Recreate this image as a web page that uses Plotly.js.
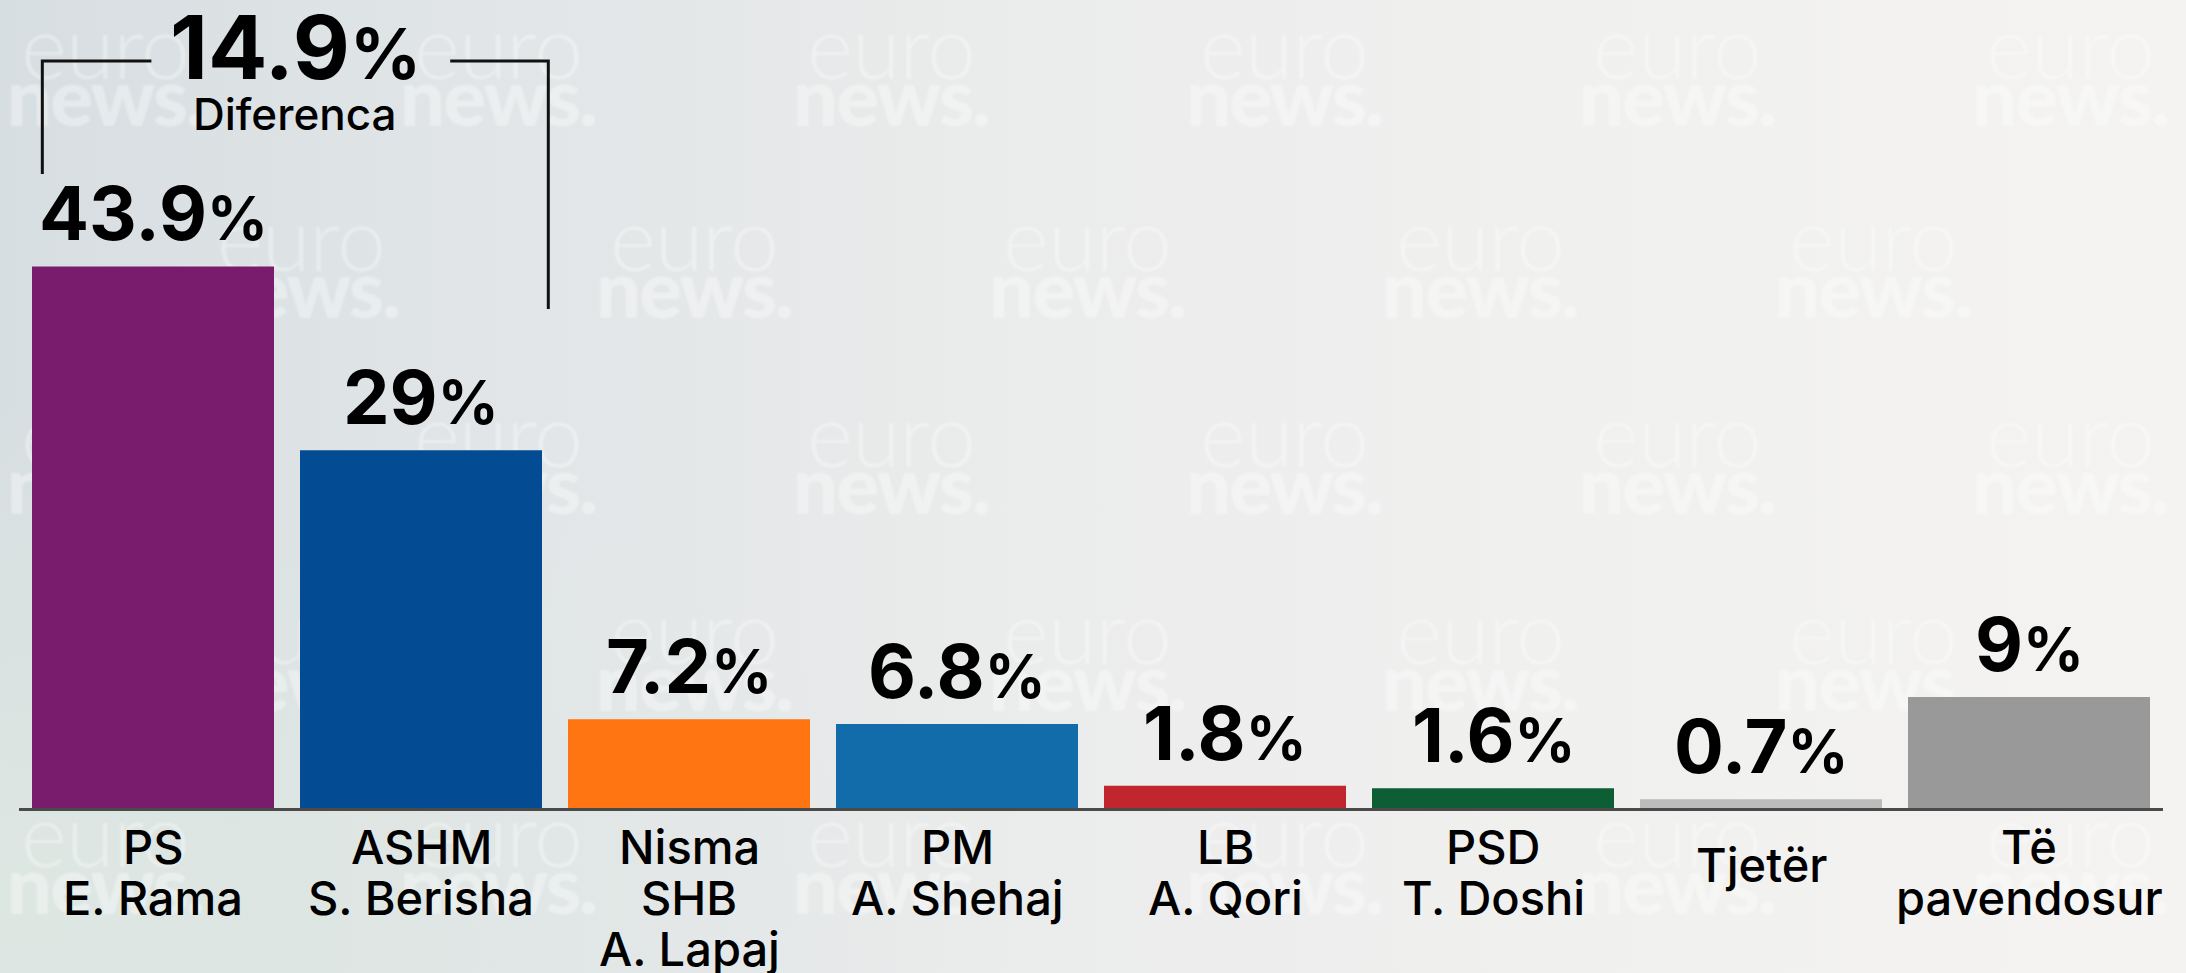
<!DOCTYPE html>
<html><head><meta charset="utf-8">
<script src="https://cdn.plot.ly/plotly-3.0.1.min.js"></script>
<style>
html,body{margin:0;padding:0;width:2186px;height:973px;overflow:hidden;}
body{background:
  radial-gradient(ellipse 900px 500px at 0px 900px, rgba(222,232,226,0.9), rgba(222,232,226,0) 100%),
  linear-gradient(90deg,#d7dee1 0%,#e1e5e7 22%,#eaebeb 45%,#f0f0ef 70%,#f4f3f2 100%);}
#wm{position:absolute;left:0;top:0;width:2186px;height:973px;filter:blur(1px);}
.wm{position:absolute;width:220px;color:rgba(255,255,255,0.36);text-align:center;font-family:Lato;}
.wm .e{font-weight:300;font-size:88px;line-height:50px;letter-spacing:-1px;}
.wm .n{font-weight:900;font-size:80px;line-height:50px;letter-spacing:-2px;}
#chart{position:absolute;left:0;top:0;width:2186px;height:973px;}
</style></head><body>
<div id="wm"></div><div id="chart"></div>
<script>
// ---- data ----
const categories = ["PS<br>E. Rama", "ASHM<br>S. Berisha", "Nisma<br>SHB<br>A. Lapaj", "PM<br>A. Shehaj", "LB<br>A. Qori", "PSD<br>T. Doshi", "Tjetër", "Të<br>pavendosur"];
const values = [43.9, 29, 7.2, 6.8, 1.8, 1.6, 0.7, 9];
const barColors = ["#7a1c6e", "#034b92", "#ff7511", "#126caa", "#c1262d", "#0d5e35", "#bcbcbc", "#999999"];
const diffLabel = "Diferenca";

// ---- watermarks (background decoration) ----
(function(){
  const wm = document.getElementById('wm');
  const rowsY = [70, 262, 458, 655, 858];
  rowsY.forEach((cy, r) => {
    const x0 = (r % 2 === 0) ? 105 : 301;
    for (let cx = x0; cx < 2186 - 60; cx += 393) {
      const d = document.createElement('div');
      d.className = 'wm';
      d.style.left = (cx - 110) + 'px';
      d.style.top = (cy - 50) + 'px';
      d.innerHTML = '<div class="e">euro</div><div class="n">news.</div>';
      wm.appendChild(d);
    }
  });
})();

// ---- chart ----
const idx = values.map((v, i) => i);
const FONT = "Inter, 'Noto Sans', sans-serif";

const annotations = [];
// value labels
values.forEach((v, i) => {
  annotations.push({
    x: i, y: v, xref: 'x', yref: 'y', yanchor: 'bottom', xanchor: 'center', yshift: 6,
    showarrow: false,
    text: v + '<span style="font-size:60px">%</span>',
    font: {family: FONT, size: 74, color: '#000000', weight: 700}
  });
});
// category labels, one annotation per line
const LINE = 51;
categories.forEach((c, i) => {
  const lines = c.split('<br>');
  lines.forEach((t, j) => {
    annotations.push({
      x: i, y: 0, xref: 'x', yref: 'y', yanchor: 'top', xanchor: 'center',
      yshift: -(8 + j * LINE + (lines.length === 1 ? 18 : 0)),
      showarrow: false, text: t,
      font: {family: FONT, size: 47, color: '#000000', weight: 500}
    });
  });
});
// difference callout
const diff = (values[0] - values[1]).toFixed(1);
annotations.push({
  x: 0.53, y: 57.2, xref: 'x', yref: 'y', yanchor: 'bottom', xanchor: 'center', showarrow: false,
  text: diff + '<span style="font-size:70px">%</span>',
  font: {family: FONT, size: 88, color: '#000000', weight: 700}
});
annotations.push({
  x: 0.53, y: 53.9, xref: 'x', yref: 'y', yanchor: 'bottom', xanchor: 'center', showarrow: false,
  text: diffLabel,
  font: {family: FONT, size: 44, color: '#000000', weight: 500}
});

const shapes = [
  {type: 'path', xref: 'x', yref: 'y', path: 'M -0.413,51.4 L -0.413,60.55 L -0.006,60.55',
   line: {color: '#111111', width: 3}},
  {type: 'path', xref: 'x', yref: 'y', path: 'M 1.109,60.55 L 1.475,60.55 L 1.475,40.45',
   line: {color: '#111111', width: 3}}
];

const trace = {
  type: 'bar', x: idx, y: values,
  marker: {color: barColors, line: {width: 0}},
  hoverinfo: 'skip'
};

const layout = {
  width: 2186, height: 973,
  margin: {l: 19, r: 23, t: 0, b: 165, pad: 0},
  paper_bgcolor: 'rgba(0,0,0,0)', plot_bgcolor: 'rgba(0,0,0,0)',
  bargap: 0.097,
  showlegend: false,
  xaxis: {range: [-0.5, 7.5], showticklabels: false, ticks: '', showgrid: false, zeroline: false,
          showline: true, linecolor: '#4a4a4a', linewidth: 3, fixedrange: true},
  yaxis: {range: [0, 65.5], visible: false, showgrid: false, zeroline: false, fixedrange: true},
  annotations: annotations,
  shapes: shapes
};

Plotly.newPlot('chart', [trace], layout, {displayModeBar: false, staticPlot: true});
</script>
</body></html>
